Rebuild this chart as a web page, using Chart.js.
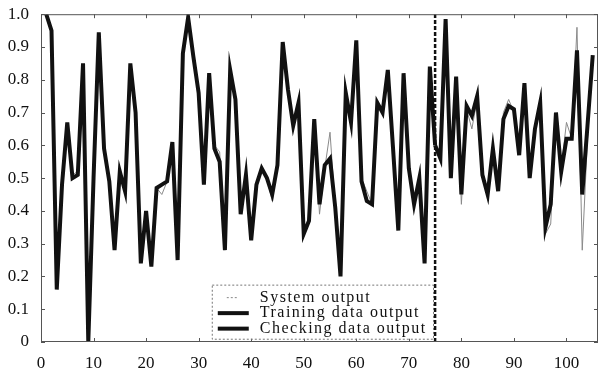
<!DOCTYPE html>
<html lang="en">
<head>
  <meta charset="UTF-8">
  <title>System / training / checking output</title>
  <script src="https://cdn.jsdelivr.net/npm/chart.js"></script>
  <style>
    body { margin: 0; background: #fff; }
    #wrap { width: 602px; height: 372px; }
  </style>
</head>
<body>
  <div id="wrap"><canvas id="outChart" width="602" height="372"></canvas></div>
  <script>
    // sample index of the first value in each series
    const systemStart = 1;
    const trainStart = 1;
    const checkStart = 75;
    const splitAt = 75; // boundary between training and checking data

    const systemOut = [
      1.00, 0.96, 0.17, 0.48, 0.66, 0.51, 0.52, 0.84, 0.01, 0.50,
      0.94, 0.60, 0.49, 0.29, 0.52, 0.47, 0.84, 0.71, 0.25, 0.39,
      0.24, 0.47, 0.45, 0.49, 0.60, 0.26, 0.87, 0.98, 0.86, 0.76,
      0.49, 0.81, 0.60, 0.58, 0.29, 0.82, 0.73, 0.40, 0.50, 0.32,
      0.48, 0.52, 0.50, 0.43, 0.54, 0.90, 0.76, 0.67, 0.72, 0.34,
      0.37, 0.67, 0.39, 0.53, 0.64, 0.41, 0.21, 0.75, 0.68, 0.91,
      0.50, 0.46, 0.42, 0.72, 0.70, 0.82, 0.60, 0.35, 0.81, 0.53,
      0.43, 0.49, 0.25, 0.83, 0.61, 0.57, 0.97, 0.51, 0.80, 0.42,
      0.71, 0.65, 0.74, 0.51, 0.46, 0.58, 0.47, 0.70, 0.74, 0.70,
      0.58, 0.78, 0.51, 0.64, 0.72, 0.33, 0.36, 0.69, 0.53, 0.67,
      0.62, 0.96, 0.28, 0.62, 0.87
    ];
    const trainOut = [
      1.00, 0.95, 0.16, 0.48, 0.67, 0.50, 0.51, 0.85, 0.00, 0.50,
      0.945, 0.59, 0.49, 0.28, 0.52, 0.46, 0.85, 0.70, 0.24, 0.40,
      0.23, 0.47, 0.48, 0.49, 0.61, 0.25, 0.88, 0.99, 0.87, 0.76,
      0.48, 0.82, 0.59, 0.55, 0.28, 0.83, 0.74, 0.39, 0.51, 0.31,
      0.48, 0.53, 0.50, 0.45, 0.54, 0.915, 0.77, 0.66, 0.73, 0.33,
      0.37, 0.68, 0.42, 0.54, 0.56, 0.41, 0.20, 0.76, 0.67, 0.92,
      0.49, 0.43, 0.42, 0.73, 0.70, 0.83, 0.59, 0.34, 0.82, 0.53,
      0.42, 0.50, 0.24, 0.84, 0.60
    ];
    const checkOut = [
      0.60, 0.56, 0.985, 0.50, 0.81, 0.45, 0.72, 0.69, 0.75, 0.51,
      0.45, 0.59, 0.46, 0.68, 0.72, 0.71, 0.57, 0.79, 0.50, 0.65,
      0.73, 0.35, 0.42, 0.70, 0.52, 0.62, 0.62, 0.89, 0.45, 0.66,
      0.875
    ];

    const xTicks = [0, 10, 20, 30, 40, 50, 60, 70, 80, 90, 100];
    const yTicks = [0, 0.1, 0.2, 0.3, 0.4, 0.5, 0.6, 0.7, 0.8, 0.9, 1];
    const xMin = 0, xMax = 106, yMin = 0, yMax = 1;

    const toPoints = (vals, start) => vals.map((v, i) => ({ x: start + i, y: v }));
    const serif = "'Times New Roman', 'Liberation Serif', Times, serif";

    // box round the plot with inward tick marks on every side
    const framePlugin = {
      id: 'frame',
      afterDraw(chart) {
        const { ctx, chartArea: a, scales } = chart;
        ctx.save();
        ctx.strokeStyle = '#555';
        ctx.lineWidth = 1;
        ctx.strokeRect(a.left + 0.5, a.top + 0.5, a.right - a.left - 1, a.bottom - a.top - 1);
        ctx.beginPath();
        xTicks.forEach(v => {
          const px = Math.round(scales.x.getPixelForValue(v)) + 0.5;
          ctx.moveTo(px, a.bottom); ctx.lineTo(px, a.bottom - 4);
          ctx.moveTo(px, a.top); ctx.lineTo(px, a.top + 4);
        });
        yTicks.forEach(v => {
          const py = Math.round(scales.y.getPixelForValue(v)) + 0.5;
          ctx.moveTo(a.left, py); ctx.lineTo(a.left + 4, py);
          ctx.moveTo(a.right, py); ctx.lineTo(a.right - 4, py);
        });
        ctx.stroke();
        ctx.restore();
      }
    };

    // legend box inside the plot, lower middle
    const legendPlugin = {
      id: 'boxLegend',
      afterDraw(chart) {
        const { ctx, scales } = chart;
        const left = scales.x.getPixelForValue(32.5);
        const right = scales.x.getPixelForValue(74.6);
        const top = scales.y.getPixelForValue(0.175);
        const bottom = scales.y.getPixelForValue(0.01);
        ctx.save();
        ctx.fillStyle = '#fff';
        ctx.fillRect(left, top, right - left, bottom - top);
        ctx.strokeStyle = '#777';
        ctx.lineWidth = 1;
        ctx.setLineDash([2, 2]);
        ctx.strokeRect(left + 0.5, top + 0.5, right - left, bottom - top);
        ctx.setLineDash([]);
        ctx.font = '16px ' + serif;
        ctx.letterSpacing = '1.5px';
        ctx.textBaseline = 'middle';
        ctx.fillStyle = '#111';
        const rows = [0, 1, 2];
        rows.forEach(i => {
          const ds = chart.data.datasets[i];
          const y = top + 13 + i * 15.5;
          ctx.beginPath();
          if (i === 0) {
            ctx.setLineDash([2, 2]);
            ctx.lineWidth = 1;
            ctx.strokeStyle = '#888';
            ctx.moveTo(left + 15, y); ctx.lineTo(left + 27, y);
          } else {
            ctx.setLineDash([]);
            ctx.lineWidth = ds.borderWidth;
            ctx.strokeStyle = ds.borderColor;
            ctx.moveTo(left + 6, y); ctx.lineTo(left + 37, y);
          }
          ctx.stroke();
          ctx.fillText(ds.label, left + 48, y);
        });
        ctx.restore();
      }
    };

    const outChart = new Chart(document.getElementById('outChart'), {
      type: 'line',
      data: {
        datasets: [
          {
            label: 'System output',
            data: toPoints(systemOut, systemStart),
            borderColor: '#8a8a8a',
            borderWidth: 1,
            order: 3
          },
          {
            label: 'Training data output',
            data: toPoints(trainOut, trainStart),
            borderColor: '#111',
            borderWidth: 4,
            order: 2
          },
          {
            label: 'Checking data output',
            data: toPoints(checkOut, checkStart),
            borderColor: '#111',
            borderWidth: 4,
            order: 2
          },
          {
            label: 'split',
            data: [{ x: splitAt, y: yMin }, { x: splitAt, y: yMax }],
            borderColor: '#111',
            borderWidth: 2.5,
            borderDash: [4, 2],
            order: 1
          }
        ]
      },
      options: {
        responsive: false,
        animation: false,
        layout: { padding: { top: 10, right: 4, left: 0, bottom: 0 } },
        elements: {
          point: { radius: 0 },
          line: { tension: 0, borderCapStyle: 'butt', borderJoinStyle: 'miter' }
        },
        plugins: {
          legend: { display: false },
          tooltip: { enabled: false }
        },
        scales: {
          x: {
            type: 'linear',
            min: xMin,
            max: xMax,
            grid: { display: false },
            border: { display: false },
            afterBuildTicks: s => { s.ticks = xTicks.map(v => ({ value: v })); },
            afterFit: s => { s.height = 30; },
            ticks: {
              font: { family: serif, size: 17 },
              color: '#111',
              padding: 3,
              maxRotation: 0,
              autoSkip: false
            }
          },
          y: {
            min: yMin,
            max: yMax,
            grid: { display: false },
            border: { display: false },
            afterBuildTicks: s => { s.ticks = yTicks.map(v => ({ value: v })); },
            afterFit: s => { s.width = 41; },
            ticks: {
              font: { family: serif, size: 17 },
              color: '#111',
              padding: 4,
              autoSkip: false
            }
          }
        }
      },
      plugins: [framePlugin, legendPlugin]
    });
  </script>
</body>
</html>
